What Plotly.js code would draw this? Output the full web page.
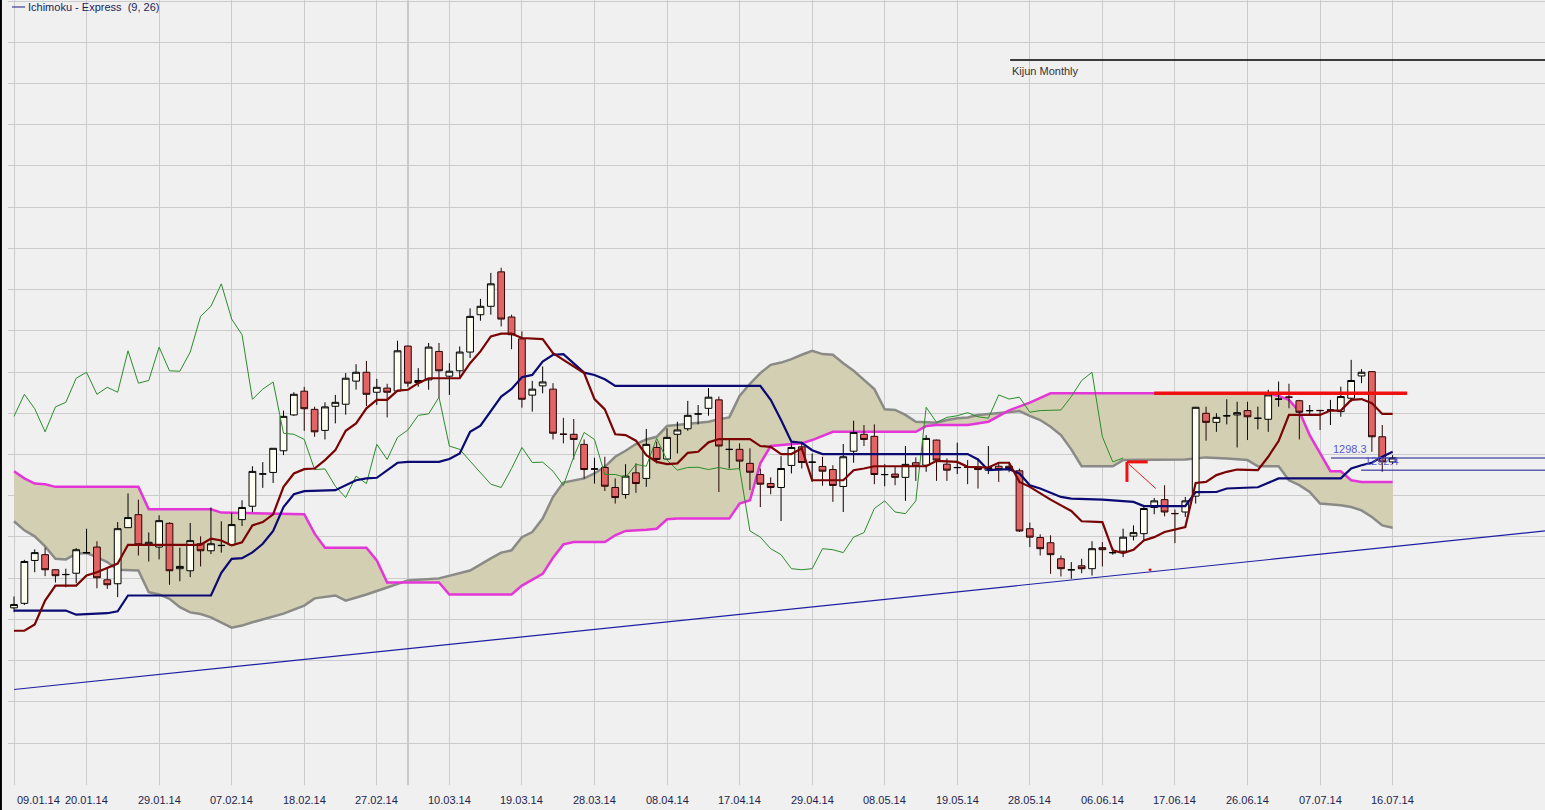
<!DOCTYPE html>
<html>
<head>
<meta charset="utf-8">
<script src="https://cdn.plot.ly/plotly-3.0.1.min.js"></script>
<style>
html,body{margin:0;padding:0;background:#f0f0f0;}
#chart{width:1545px;height:810px;}
</style>
</head>
<body>
<div id="chart"></div>
<script>
// ---- tick labels (one every 7 sessions) ----
const dateLabels = ['09.01.14','20.01.14','29.01.14','07.02.14','18.02.14','27.02.14','10.03.14','19.03.14','28.03.14','08.04.14','17.04.14','29.04.14','08.05.14','19.05.14','28.05.14','06.06.14','17.06.14','26.06.14','07.07.14','16.07.14'];
const labelStep = 7;

// ---- daily OHLC (session index 0..133) ----
const openP = [1225.6,1227.8,1248.6,1251.4,1244.1,1241.7,1242.4,1252.3,1255.1,1239.2,
1237.3,1264.5,1270.8,1256.4,1255.1,1266.6,1244.6,1243.6,1256.7,1253.3,
1255.8,1256.2,1268.4,1274.9,1290.5,1291.3,1301.8,1319.2,1330.7,1321.9,
1311.7,1323.4,1324.4,1335.6,1339.9,1330.2,1332.2,1330.8,1352.6,1334.9,
1336.2,1350.0,1338.0,1340.6,1349.7,1367.8,1371.9,1388.6,1366.7,1356.1,
1328.8,1333.3,1331.7,1309.9,1309.8,1304.9,1292.9,1293.7,1284.0,1280.6,
1291.1,1288.4,1303.4,1297.8,1309.8,1312.5,1319.6,1322.4,1326.5,1302.4,
1302.5,1295.7,1290.3,1285.9,1284.0,1294.7,1303.7,1296.2,1294.2,1292.7,
1284.5,1301.6,1309.8,1308.8,1290.2,1290.5,1288.9,1296.0,1294.8,1307.0,
1295.3,1293.6,1293.9,1294.0,1292.4,1294.3,1294.3,1292.1,1264.0,1259.7,
1257.2,1249.4,1244.0,1246.0,1244.6,1254.8,1252.3,1253.1,1260.4,1261.6,
1274.3,1278.1,1271.4,1272.1,1279.8,1320.0,1315.6,1318.7,1319.2,1321.3,
1317.5,1317.1,1326.8,1327.9,1326.1,1321.2,1321.4,1321.5,1320.8,1327.3,
1338.1,1340.2,1308.6,1296.4];
const highP = [1231.1,1248.9,1254.0,1254.8,1244.3,1244.6,1254.6,1264.0,1257.9,1245.1,
1267.2,1281.1,1278.1,1262.2,1270.5,1267.1,1254.8,1266.8,1260.3,1274.3,
1267.6,1271.8,1277.8,1294.3,1296.3,1303.1,1321.3,1330.2,1332.8,1323.2,
1325.3,1328.9,1339.5,1343.8,1345.4,1336.7,1334.3,1355.2,1352.8,1341.9,
1354.1,1354.1,1344.3,1352.4,1370.9,1375.5,1388.1,1390.6,1367.8,1359.7,
1335.7,1342.7,1334.6,1317.8,1317.2,1307.3,1298.4,1298.9,1288.4,1295.3,
1295.7,1312.4,1306.2,1312.7,1315.9,1326.0,1324.0,1332.2,1328.1,1307.8,
1305.4,1303.0,1293.2,1288.9,1299.2,1305.4,1306.2,1300.5,1298.9,1294.8,
1305.1,1316.4,1314.3,1314.6,1295.3,1294.0,1304.1,1298.6,1309.4,1307.2,
1298.1,1305.7,1297.3,1298.1,1304.1,1295.7,1296.3,1293.2,1267.0,1261.3,
1260.8,1251.0,1247.8,1249.4,1257.9,1257.5,1254.8,1264.0,1265.6,1274.5,
1278.9,1285.1,1273.3,1279.4,1323.1,1323.2,1320.0,1326.8,1325.6,1325.6,
1323.2,1331.4,1335.4,1334.3,1326.5,1324.0,1321.6,1326.5,1332.9,1345.9,
1341.4,1340.4,1314.3,1299.7];
const lowP = [1223.5,1227.0,1242.9,1241.0,1237.9,1235.6,1237.6,1251.9,1235.1,1234.8,
1230.8,1264.4,1251.0,1248.1,1249.1,1236.8,1238.5,1240.5,1245.7,1251.7,
1252.4,1256.1,1265.3,1272.1,1283.8,1286.2,1299.7,1318.7,1311.5,1308.6,
1307.3,1315.1,1319.3,1331.5,1323.5,1324.0,1318.0,1330.5,1332.9,1332.9,
1331.4,1327.6,1328.9,1336.8,1346.8,1364.9,1367.8,1362.1,1351.1,1322.7,
1320.8,1329.7,1307.3,1305.4,1297.6,1288.2,1285.9,1282.3,1276.2,1278.6,
1281.4,1284.3,1295.7,1297.3,1300.5,1311.5,1314.6,1318.8,1281.8,1293.2,
1292.4,1282.7,1274.5,1280.7,1267.7,1290.8,1293.2,1286.7,1284.8,1277.0,
1272.1,1296.0,1304.1,1285.6,1284.6,1285.1,1277.5,1287.2,1291.6,1287.2,
1287.2,1290.5,1285.6,1283.5,1290.5,1286.7,1291.4,1262.4,1255.1,1251.0,
1242.1,1240.8,1239.7,1242.4,1241.3,1245.7,1251.4,1250.2,1258.3,1258.3,
1271.0,1270.0,1257.0,1269.7,1276.2,1306.7,1311.0,1314.6,1303.4,1307.0,
1312.2,1311.0,1323.2,1322.4,1307.3,1319.2,1311.9,1314.3,1318.3,1325.6,
1334.6,1301.3,1291.6,1295.3];
const closeP = [1227.2,1248.1,1252.4,1244.1,1241.2,1241.8,1253.8,1252.4,1240.2,1236.8,
1264.0,1269.4,1256.2,1257.4,1267.9,1243.6,1245.7,1258.2,1253.3,1256.7,
1255.9,1266.0,1274.3,1291.8,1290.6,1303.0,1318.5,1329.2,1322.2,1311.0,
1323.1,1325.3,1337.0,1339.9,1329.2,1332.6,1330.2,1350.3,1334.6,1335.9,
1352.1,1340.6,1340.4,1349.7,1367.0,1371.9,1382.8,1365.7,1358.1,1326.8,
1331.7,1335.2,1310.3,1309.8,1307.3,1292.7,1293.0,1284.6,1279.1,1289.5,
1285.9,1304.9,1297.6,1308.3,1311.9,1319.0,1319.7,1327.8,1304.1,1302.5,
1296.8,1291.4,1285.6,1284.0,1293.2,1303.4,1296.1,1296.3,1291.9,1285.0,
1298.9,1310.7,1307.3,1290.3,1290.3,1288.9,1295.2,1294.3,1307.8,1297.3,
1292.4,1293.7,1293.8,1292.7,1293.7,1292.7,1293.2,1262.9,1259.9,1254.3,
1251.4,1244.6,1244.1,1244.6,1254.3,1253.8,1252.4,1259.9,1262.1,1273.8,
1277.5,1272.1,1271.3,1277.5,1322.9,1315.6,1318.0,1318.8,1320.3,1318.3,
1317.6,1328.9,1326.9,1327.8,1320.5,1321.3,1321.3,1321.6,1328.1,1335.9,
1339.9,1308.6,1296.4,1298.3];

// ---- Ichimoku lines: [session index, price] ----
const tenkanPts = [[0,1214.5],[1,1214.5],[2,1217.5],[3,1229.1],[4,1236.4],[6,1236.4],[7,1241.3],[8,1242.9],[10,1247.1],[11,1256.2],
[18,1256.2],[19,1259.2],[20,1258.3],[21,1255.9],[22,1257.4],[23,1265.6],[24,1267.2],[25,1271.0],[26,1284.3],[27,1290.8],
[28,1292.9],[29,1293.2],[30,1297.3],[31,1302.1],[32,1311.5],[33,1315.1],[34,1322.4],[35,1326.5],[36,1326.5],[37,1331.0],
[38,1331.4],[39,1334.6],[40,1337.0],[43,1337.0],[44,1344.3],[45,1350.0],[46,1357.3],[47,1358.6],[48,1358.6],[49,1356.5],
[51,1356.0],[52,1349.2],[53,1345.9],[54,1342.5],[55,1339.5],[56,1326.9],[57,1321.9],[58,1309.8],[59,1309.4],[60,1306.7],
[61,1299.7],[62,1296.4],[63,1295.3],[64,1295.7],[65,1300.8],[66,1301.3],[67,1305.9],[68,1307.5],[71,1307.5],[72,1304.1],
[73,1303.7],[74,1300.2],[75,1300.2],[76,1303.0],[77,1287.5],[80,1287.5],[81,1292.4],[82,1293.2],[83,1294.3],[88,1294.3],
[89,1296.9],[91,1296.4],[92,1294.0],[94,1293.7],[95,1296.0],[96,1296.0],[97,1286.7],[98,1284.3],[99,1281.1],[100,1278.1],
[102,1272.6],[103,1267.6],[105,1267.2],[106,1253.5],[107,1252.2],[108,1253.8],[109,1258.3],[110,1259.9],[111,1262.4],[112,1263.5],
[113,1264.8],[114,1286.2],[115,1286.7],[116,1290.0],[117,1291.6],[118,1292.7],[120,1292.4],[121,1298.9],[122,1306.5],[123,1319.2],
[126,1319.2],[127,1321.3],[128,1321.3],[129,1326.5],[130,1326.9],[131,1324.9],[132,1319.7],[133,1319.7]];

const kijunPts = [[0,1224.3],[5,1224.3],[6,1222.3],[7,1222.6],[9,1223.0],[10,1223.9],[11,1231.6],[19,1231.6],[20,1242.6],[21,1249.4],
[22,1249.7],[23,1252.5],[24,1256.7],[25,1262.9],[26,1274.5],[27,1280.7],[28,1282.2],[31,1282.7],[33,1287.5],[34,1288.4],
[35,1288.7],[37,1296.0],[38,1296.4],[41,1296.4],[42,1297.8],[43,1300.5],[44,1311.0],[45,1314.0],[46,1320.8],[47,1328.1],
[48,1331.8],[49,1337.5],[50,1338.6],[51,1345.1],[52,1348.4],[53,1348.7],[55,1339.7],[56,1338.6],[57,1336.5],[58,1333.3],
[72,1333.3],[73,1326.5],[74,1316.7],[75,1306.2],[76,1305.7],[77,1302.1],[78,1300.2],[92,1300.2],[93,1297.6],[94,1292.4],
[96,1292.9],[97,1290.8],[98,1285.1],[99,1283.5],[101,1279.4],[102,1278.6],[105,1278.1],[108,1277.0],[109,1275.0],[113,1275.0],
[114,1281.7],[116,1281.8],[117,1283.5],[120,1284.1],[122,1288.4],[128,1288.4],[129,1293.2],[130,1294.8],[131,1296.0],[132,1298.9],
[133,1301.3]];

const spanMagentaPts = [[0,1291.9],[1,1288.4],[2,1285.9],[3,1285.6],[4,1284.3],[12,1284.3],[13,1273.4],[19,1273.4],[20,1271.8],[28,1271.0],
[29,1261.6],[30,1254.8],[34,1254.8],[35,1248.6],[36,1237.9],[41,1237.9],[42,1232.1],[48,1232.1],[49,1236.4],[50,1239.2],
[51,1242.1],[52,1249.9],[53,1256.4],[54,1257.5],[57,1257.5],[58,1260.8],[59,1262.9],[61,1263.5],[62,1264.0],[63,1268.6],
[64,1268.9],[69,1268.9],[70,1276.2],[71,1277.8],[72,1295.7],[73,1304.1],[75,1305.1],[76,1305.4],[77,1307.0],[79,1311.0],
[87,1311.0],[88,1313.8],[89,1314.3],[92,1314.3],[94,1315.9],[95,1318.7],[96,1321.4],[98,1325.2],[100,1329.7],[121,1329.7],
[122,1328.4],[123,1326.5],[124,1320.8],[125,1309.4],[126,1300.5],[127,1291.9],[128,1291.9],[129,1287.5],[130,1286.7],[133,1286.7]];

const spanGrayPts = [[0,1267.6],[1,1263.2],[2,1260.3],[3,1255.4],[4,1249.4],[5,1249.1],[6,1251.9],[7,1252.2],[8,1250.2],[9,1247.8],
[10,1244.1],[12,1243.7],[13,1233.2],[14,1232.1],[15,1230.0],[16,1225.9],[17,1223.4],[18,1222.6],[19,1221.0],[20,1218.6],
[21,1216.0],[22,1217.0],[23,1218.6],[26,1222.8],[28,1226.7],[29,1230.2],[31,1231.6],[32,1229.1],[34,1232.1],[36,1235.5],
[38,1238.9],[41,1239.9],[44,1243.7],[46,1249.6],[47,1252.4],[48,1253.5],[49,1259.9],[50,1262.4],[51,1268.9],[52,1279.4],
[53,1286.4],[55,1288.4],[56,1290.8],[57,1294.0],[58,1298.9],[59,1301.8],[60,1305.1],[61,1307.3],[62,1308.6],[63,1313.8],
[64,1314.3],[67,1315.9],[68,1317.1],[69,1318.0],[70,1328.4],[71,1334.3],[72,1339.5],[73,1343.5],[74,1344.6],[75,1346.3],
[76,1348.4],[77,1350.3],[78,1348.7],[79,1348.4],[80,1344.3],[81,1340.6],[82,1336.2],[83,1331.7],[84,1321.9],[85,1321.6],
[86,1319.2],[87,1315.9],[89,1315.4],[90,1316.7],[91,1317.6],[92,1318.0],[93,1319.2],[94,1319.7],[95,1320.3],[96,1320.9],
[97,1321.1],[98,1318.7],[99,1316.7],[100,1313.5],[101,1309.4],[102,1302.5],[103,1294.3],[106,1294.3],[107,1297.3],[113,1297.6],
[115,1298.6],[117,1298.1],[119,1297.3],[120,1294.3],[122,1294.3],[123,1287.5],[124,1285.1],[125,1281.8],[126,1276.2],[128,1275.4],
[129,1274.5],[130,1272.9],[131,1269.7],[132,1265.6],[133,1264.5]];

const chikouLag = 26;

// ---- drawn objects ----
const trendIdx = [0, 147.7];
const trendVal = [1186.0, 1262.9];
const resistance = {from:110, to:134.4, level:1329.7};
const kijunMonthly = {from:96.1, to:147.7, level:1491.4};
const priceLines = [{from:127.05, level:1298.3, label:'1298.3'}, {from:129.96, level:1292.4, label:'1292.4'}];

// ---------------------------------------------------------------
const idx = closeP.map((_, i) => i);
const chikouX = [], chikouY = [];
for (let i = chikouLag; i < closeP.length; i++) { chikouX.push(i - chikouLag); chikouY.push(closeP[i]); }

const line = (pts, color, width, extra) => Object.assign({
  type:'scatter', mode:'lines', x: pts.map(p => p[0]), y: pts.map(p => p[1]),
  line:{color:color, width:width}, hoverinfo:'skip'
}, extra || {});

const traces = [
  // cloud on base subplot
  line(spanGrayPts, '#8a8a86', 2.5),
  line(spanMagentaPts, '#e436d8', 2.5, {fill:'tonexty', fillcolor:'#d3cfb2'}),
  {type:'scatter', mode:'lines', x:trendIdx, y:trendVal, line:{color:'#1f1fa3', width:1.2}, hoverinfo:'skip'},
  // candles on overlay subplot 2
  {type:'candlestick', xaxis:'x2', yaxis:'y2', x:idx, open:openP, high:highP, low:lowP, close:closeP,
   increasing:{line:{color:'#000000', width:1}, fillcolor:'#fffff2'},
   decreasing:{line:{color:'#2a0505', width:1}, fillcolor:'#e36464'},
   whiskerwidth:0, hoverinfo:'skip'},
  // lines on overlay subplot 3
  {type:'scatter', mode:'lines', xaxis:'x3', yaxis:'y3', x:chikouX, y:chikouY, line:{color:'#2b8c2b', width:1}, hoverinfo:'skip'},
  line(kijunPts, '#0a0a72', 2.2, {xaxis:'x3', yaxis:'y3'}),
  line(tenkanPts, '#7a0404', 2.2, {xaxis:'x3', yaxis:'y3'})
];

const xRange = [-0.579, 147.7];
const yRange = [1139.66, 1520.49];

const shapes = [
  {type:'line', xref:'paper', yref:'paper', x0:-0.0046, x1:-0.0046, y0:-0.04, y1:1, line:{color:'#000000', width:2}},
  {type:'line', xref:'x', yref:'paper', x0:38.01, x1:38.01, y0:0, y1:1, layer:'below', line:{color:'#a2a2a2', width:1}},
  {type:'line', xref:'paper', yref:'paper', x0:0.0026, x1:0.0111, y0:0.9911, y1:0.9911, line:{color:'#1a1a8a', width:1}},
  {type:'line', xref:'x', yref:'y', x0:kijunMonthly.from, x1:kijunMonthly.to, y0:kijunMonthly.level, y1:kijunMonthly.level, line:{color:'#000000', width:1.5}},
  {type:'line', xref:'x', yref:'y', x0:resistance.from, x1:resistance.to, y0:resistance.level, y1:resistance.level, line:{color:'#f01010', width:3.5}},
  {type:'line', xref:'x', yref:'y', x0:priceLines[0].from, x1:147.7, y0:priceLines[0].level, y1:priceLines[0].level, line:{color:'#16168a', width:1}},
  {type:'line', xref:'x', yref:'y', x0:priceLines[1].from, x1:147.7, y0:priceLines[1].level, y1:priceLines[1].level, line:{color:'#16168a', width:1}},
  {type:'line', xref:'x', yref:'y', x0:107.37, x1:107.37, y0:1296.4, y1:1286.7, line:{color:'#f01010', width:3}},
  {type:'line', xref:'x', yref:'y', x0:107.37, x1:109.37, y0:1296.4, y1:1296.4, line:{color:'#f01010', width:3}},
  {type:'line', xref:'x', yref:'y', x0:107.56, x1:110.15, y0:1295.3, y1:1283.5, line:{color:'#e02020', width:1}},
  {type:'circle', xref:'x', yref:'y', x0:109.45, x1:109.75, y0:1243.5, y1:1244.7, fillcolor:'#e01010', line:{color:'#e01010', width:0}}
];

const font11 = (c) => ({family:'Liberation Sans, Arial, sans-serif', size:11, color:c});
const annotations = dateLabels.map((t, k) => ({
  text:t, xref:'x', yref:'paper', x:k*labelStep, y:-0.0195, showarrow:false,
  xanchor: k === 0 ? 'left' : 'center', yanchor:'middle', xshift: k === 0 ? 1 : 0,
  font:font11('#1e1e4e')
}));
annotations.push({text:'Ichimoku - Express  (9, 26)', xref:'paper', yref:'paper', x:0.0118, y:0.9911,
  xanchor:'left', yanchor:'middle', showarrow:false, font:font11('#1c1c5c')});
annotations.push({text:'Kijun Monthly', xref:'x', yref:'y', x:kijunMonthly.from, y:kijunMonthly.level, yshift:-3,
  xanchor:'left', yanchor:'top', showarrow:false, font:font11('#333333')});
annotations.push({text:priceLines[0].label, xref:'x', yref:'y', x:priceLines[0].from, y:priceLines[0].level, yshift:1,
  xanchor:'left', yanchor:'bottom', showarrow:false, font:font11('#5a5ad0')});
annotations.push({text:priceLines[1].label, xref:'x', yref:'y', x:130.1, y:priceLines[1].level, yshift:1,
  xanchor:'left', yanchor:'bottom', showarrow:false, font:font11('#5a5ad0')});

const hiddenX = (n) => ({type:'linear', range:xRange, overlaying:'x', visible:false, showgrid:false, zeroline:false,
  rangeslider:{visible:false}, fixedrange:true});
const hiddenY = () => ({range:yRange, overlaying:'y', visible:false, showgrid:false, zeroline:false, fixedrange:true});

const layout = {
  width:1545, height:810,
  margin:{l:8, r:0, t:0, b:25, pad:0},
  paper_bgcolor:'#f0f0f0', plot_bgcolor:'#f0f0f0',
  showlegend:false, hovermode:false,
  boxgap:0.35, boxgroupgap:0,
  xaxis:{type:'linear', range:xRange, tickmode:'array', tickvals:dateLabels.map((_, k) => k*labelStep),
    showticklabels:false, ticks:'', showgrid:true, gridcolor:'#cbcbcb', gridwidth:1,
    zeroline:false, showline:false, rangeslider:{visible:false}, fixedrange:true},
  yaxis:{range:yRange, tick0:1300, dtick:20, showticklabels:false, ticks:'', showgrid:true,
    gridcolor:'#cbcbcb', gridwidth:1, zeroline:false, showline:false, fixedrange:true},
  xaxis2:hiddenX(), yaxis2:hiddenY(),
  xaxis3:hiddenX(), yaxis3:hiddenY(),
  shapes:shapes, annotations:annotations
};

Plotly.newPlot('chart', traces, layout, {staticPlot:true, displayModeBar:false});
</script>
</body>
</html>
